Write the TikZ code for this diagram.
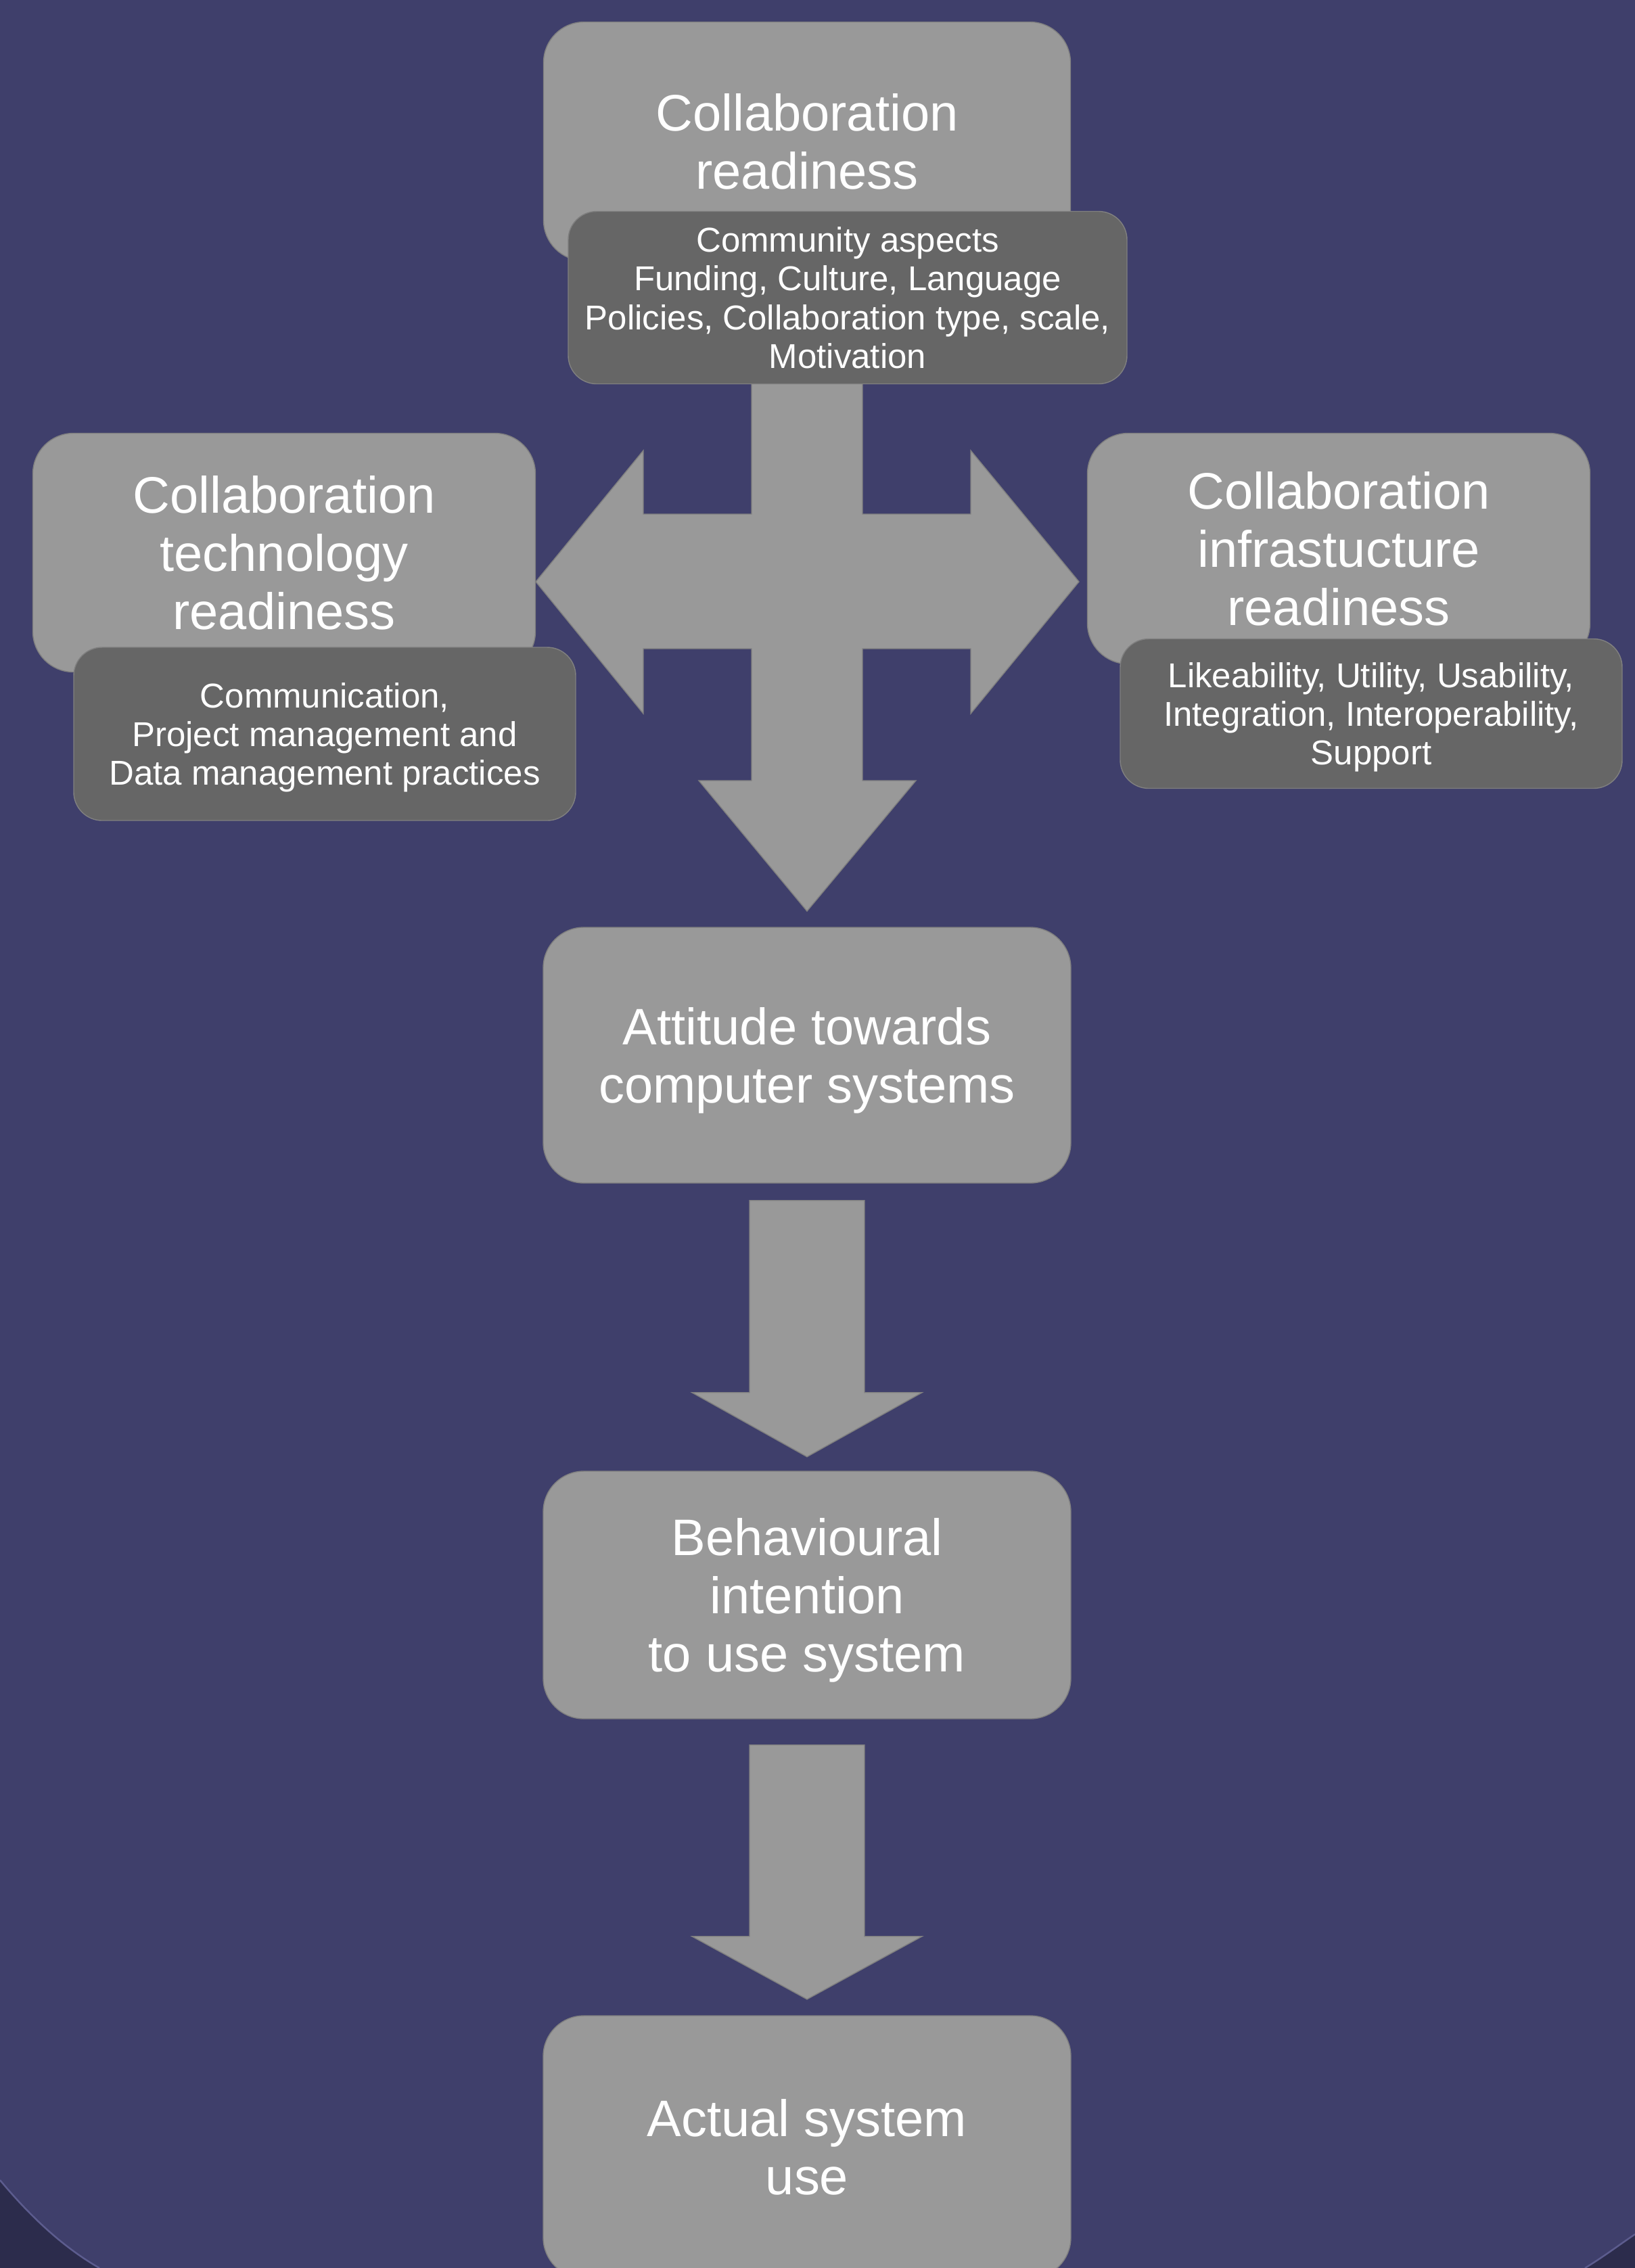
\documentclass[tikz,border=0pt]{standalone}
\usepackage{fontspec}
\setmainfont{Liberation Sans}
\definecolor{slate}{HTML}{3F3F6B}
\definecolor{slatedark}{HTML}{2C2C4C}
\definecolor{slateedge}{HTML}{5C5C8E}
\definecolor{boxgray}{HTML}{999999}
\definecolor{notegray}{HTML}{666666}
\definecolor{rimgray}{HTML}{808080}

\begin{document}
\begin{tikzpicture}[
  stage/.style = {draw=rimgray,fill=boxgray,rounded corners=0.6cm,text=white,align=center,inner sep=0pt,
    text depth=0pt,font=\fontsize{21.6}{24.5}\selectfont},
  note/.style = {draw=rimgray,fill=notegray,rounded corners=0.42cm,text=white,align=center,inner sep=0pt,
    text depth=0pt,font=\fontsize{14.5}{16.3}\selectfont},
  blockarrow/.style = {draw=rimgray,fill=boxgray,line join=miter,line width=0.4pt}
  ]
  \useasboundingbox (0,0) rectangle (24.17,-33.53);
  \clip (0,0) rectangle (24.17,-33.53);
  % background
  \fill[slatedark] (0,0) rectangle (24.17,-33.53);
  \fill[slate] (0,0) -- (24.17,0) -- (24.17,-33.03)
    .. controls (23.92,-33.20) and (23.68,-33.38) .. (23.43,-33.53) -- (1.47,-33.53)
    .. controls (0.98,-33.25) and (0.49,-32.82) .. (0,-32.23) -- cycle;
  \draw[slateedge,line width=0.7pt] (24.17,-33.03) .. controls (23.92,-33.20) and (23.68,-33.38) .. (23.43,-33.53);
  \draw[slateedge,line width=0.7pt] (1.47,-33.53) .. controls (0.98,-33.25) and (0.49,-32.82) .. (0,-32.23);
  % three-way arrow
  \draw[blockarrow] (11.11,-5.40) -- (12.75,-5.40) -- (12.75,-7.60) -- (14.35,-7.60) -- (14.35,-6.66)
    -- (15.95,-8.60) -- (14.35,-10.55) -- (14.35,-9.59) -- (12.75,-9.59) -- (12.75,-11.54)
    -- (13.54,-11.54) -- (11.93,-13.47) -- (10.33,-11.54) -- (11.11,-11.54) -- (11.11,-9.59)
    -- (9.51,-9.59) -- (9.51,-10.55) -- (7.92,-8.60) -- (9.51,-6.66) -- (9.51,-7.60)
    -- (11.11,-7.60) -- cycle;
  % readiness boxes
  \node[stage,minimum width=7.79cm,minimum height=3.53cm] (cr) at (11.93,-2.09) {Collaboration\\readiness};
  \node[note,minimum width=8.26cm,minimum height=2.55cm] (crnote) at (12.53,-4.40)
    {Community aspects\\Funding, Culture, Language\\Policies, Collaboration type, scale,\\Motivation};
  \node[stage,minimum width=7.43cm,minimum height=3.53cm] (ctr) at (4.20,-8.17) {Collaboration\\technology\\readiness};
  \node[note,minimum width=7.42cm,minimum height=2.56cm] (ctrnote) at (4.80,-10.85)
    {Communication,\\Project management and\\Data management practices};
  \node[stage,minimum width=7.43cm,minimum height=3.41cm] (cir) at (19.79,-8.11) {Collaboration\\infrastucture\\readiness};
  \node[note,minimum width=7.42cm,minimum height=2.21cm] (cirnote) at (20.27,-10.55)
    {Likeability, Utility, Usability,\\Integration, Interoperability,\\Support};
  % acceptance chain
  \node[stage,minimum width=7.80cm,minimum height=3.78cm] (att) at (11.93,-15.60) {Attitude towards\\computer systems};
  \node[stage,minimum width=7.80cm,minimum height=3.66cm] (bi) at (11.93,-23.58) {Behavioural\\intention\\to use system};
  \node[stage,minimum width=7.80cm,minimum height=3.88cm] (use) at (11.93,-31.74) {Actual system\\use};
  \draw[blockarrow] ([xshift=-0.85cm,yshift=-0.25cm]att.south) -- ++(1.70,0) -- ++(0,-2.84) -- ++(0.85,0)
    -- ++(-1.70,-0.95) -- ++(-1.70,0.95) -- ++(0.85,0) -- cycle;
  \draw[blockarrow] ([xshift=-0.85cm,yshift=-0.38cm]bi.south) -- ++(1.70,0) -- ++(0,-2.83) -- ++(0.85,0)
    -- ++(-1.70,-0.93) -- ++(-1.70,0.93) -- ++(0.85,0) -- cycle;
\end{tikzpicture}
\end{document}
